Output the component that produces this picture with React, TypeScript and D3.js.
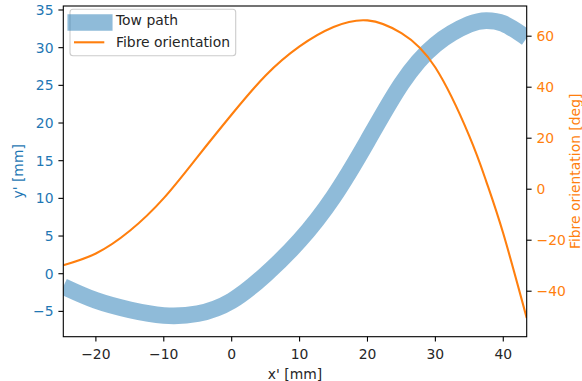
import React from "react";
import * as d3 from "d3";

const towX = [-24.8, -20, -15, -10, -5, 0, 5, 10, 15, 20, 25, 30, 35, 37.5, 40, 43.45];
const towY = [-1.7, -3.55, -4.8, -5.55, -5.3, -3.6, -0.1, 4.4, 10.2, 17.6, 25.2, 30.4, 33.1, 33.6, 33.2, 31.3];

const fibX = [-24.8, -20, -15, -10, -5, 0, 5, 10, 15, 20, 25, 30, 35, 37.5, 40, 43.45];
const fibA = [-29.8, -25.2, -16.3, -3.5, 12.8, 29.3, 44.6, 56.0, 63.6, 66.2, 61.2, 47.7, 20.8, 3.0, -17.4, -50.5];

const xTicks = [-20, -10, 0, 10, 20, 30, 40];
const yLeftTicks = [-5, 0, 5, 10, 15, 20, 25, 30, 35];
const yRightTicks = [-40, -20, 0, 20, 40, 60];

const W = 582, H = 381;
const L = 63.3, R = 526.7, T = 6, B = 336.7;
const BLUE = "#1f77b4", ORANGE = "#ff7f0e";
const FONT = "DejaVu Sans, sans-serif";
const FS = 13.9;

const fmt = (v: number) => (v < 0 ? "\u2212" + Math.abs(v) : String(v));

export default function App() {
  const x = d3.scaleLinear().domain([-24.8, 43.45]).range([L, R]);
  const yL = d3.scaleLinear().domain([-8.36, 35.53]).range([B, T]);
  const yR = d3.scaleLinear().domain([-57.84, 71.84]).range([B, T]);

  const towLine = d3
    .line<number>()
    .x((_, i) => x(towX[i]))
    .y((d) => yL(d))
    .curve(d3.curveNatural);
  const fibLine = d3
    .line<number>()
    .x((_, i) => x(fibX[i]))
    .y((d) => yR(d))
    .curve(d3.curveNatural);

  return (
    <svg width={W} height={H} style={{ position: "absolute", left: 0, top: 0 }} fontFamily={FONT}>
      <rect width={W} height={H} fill="white" />
      <defs>
        <clipPath id="plot">
          <rect x={L} y={T} width={R - L} height={B - T} />
        </clipPath>
      </defs>
      <g clipPath="url(#plot)">
        <path d={towLine(towY) || ""} fill="none" stroke={BLUE} strokeOpacity={0.5} strokeWidth={16.7} />
        <path d={fibLine(fibA) || ""} fill="none" stroke={ORANGE} strokeWidth={2.1} />
      </g>
      <rect x={L} y={T} width={R - L} height={B - T} fill="none" stroke="black" strokeWidth={1.1} />

      {xTicks.map((t) => (
        <g key={"x" + t}>
          <line x1={x(t)} x2={x(t)} y1={B} y2={B + 4.9} stroke="black" strokeWidth={1.1} />
          <text x={x(t)} y={358.5} fontSize={FS} textAnchor="middle" fill="#262626">
            {fmt(t)}
          </text>
        </g>
      ))}
      {yLeftTicks.map((t) => (
        <g key={"yl" + t}>
          <line x1={L - 4.9} x2={L} y1={yL(t)} y2={yL(t)} stroke="black" strokeWidth={1.1} />
          <text x={L - 9.8} y={yL(t)} dy="0.36em" fontSize={FS} textAnchor="end" fill={BLUE}>
            {fmt(t)}
          </text>
        </g>
      ))}
      {yRightTicks.map((t) => (
        <g key={"yr" + t}>
          <line x1={R} x2={R + 4.9} y1={yR(t)} y2={yR(t)} stroke="black" strokeWidth={1.1} />
          <text x={R + 9.8} y={yR(t)} dy="0.36em" fontSize={FS} textAnchor="start" fill={ORANGE}>
            {fmt(t)}
          </text>
        </g>
      ))}

      <text x={(L + R) / 2} y={379} fontSize={FS} textAnchor="middle" fill="#262626">
        x' [mm]
      </text>
      <text transform={`translate(23,${(T + B) / 2}) rotate(-90)`} fontSize={FS} textAnchor="middle" fill={BLUE}>
        y' [mm]
      </text>
      <text transform={`translate(580,${(T + B) / 2}) rotate(-90)`} fontSize={FS} textAnchor="middle" fill={ORANGE}>
        Fibre orientation [deg]
      </text>

      <g>
        <rect x={70} y={9.3} width={165.7} height={46.4} rx={3} fill="white" fillOpacity={0.8} stroke="#cccccc" strokeWidth={1.1} />
        <line x1={75.8} x2={104.2} y1={22.5} y2={22.5} stroke={BLUE} strokeOpacity={0.5} strokeWidth={16.7} strokeLinecap="square" />
        <text x={116} y={25.3} fontSize={FS} fill="#262626">Tow path</text>
        <line x1={74} x2={104.3} y1={42.3} y2={42.3} stroke={ORANGE} strokeWidth={2.1} />
        <text x={116} y={47} fontSize={FS} fill="#262626">Fibre orientation</text>
      </g>
    </svg>
  );
}
